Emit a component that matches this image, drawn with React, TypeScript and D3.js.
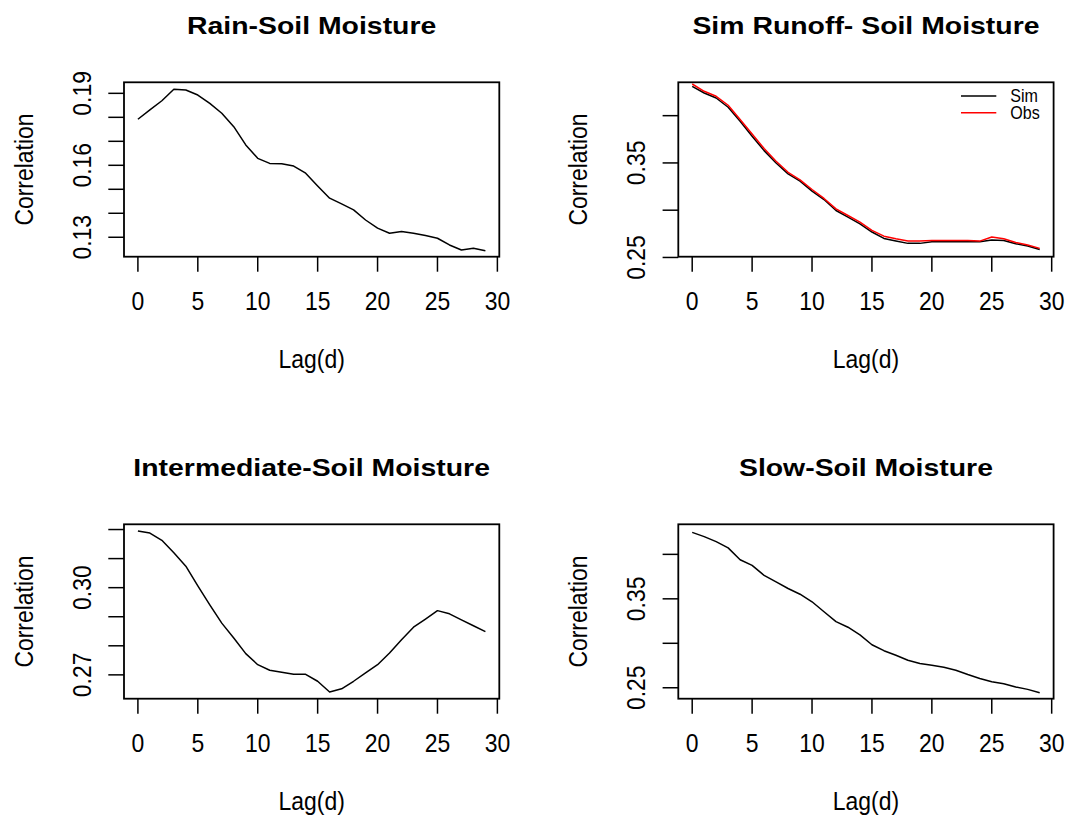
import React from "react";
import * as d3 from "d3";

// ---------- data ----------
const lags = [0, 1, 2, 3, 4, 5, 6, 7, 8, 9, 10, 11, 12, 13, 14, 15, 16, 17, 18, 19, 20, 21, 22, 23, 24, 25, 26, 27, 28, 29];

const rainSoil = [0.1792, 0.1831, 0.1869, 0.1917, 0.1914, 0.1893, 0.1858, 0.1817, 0.1761, 0.1685, 0.1629, 0.1608, 0.1606, 0.1597, 0.1567, 0.1514, 0.1463, 0.1439, 0.1414, 0.1372, 0.1338, 0.1317, 0.1324, 0.1317, 0.1307, 0.1296, 0.1268, 0.1247, 0.1254, 0.1244];

const simRunoffSoil = [0.4310, 0.4240, 0.4187, 0.4089, 0.3941, 0.3782, 0.3630, 0.3500, 0.3384, 0.3307, 0.3202, 0.3113, 0.2997, 0.2927, 0.2856, 0.2769, 0.2701, 0.2674, 0.2649, 0.2649, 0.2666, 0.2666, 0.2666, 0.2666, 0.2666, 0.2684, 0.2680, 0.2645, 0.2621, 0.2585];
const obsRunoffSoil = [0.4335, 0.4258, 0.4205, 0.4110, 0.3959, 0.3807, 0.3652, 0.3518, 0.3401, 0.3321, 0.3219, 0.3124, 0.3014, 0.2944, 0.2873, 0.2786, 0.2725, 0.2697, 0.2673, 0.2673, 0.2680, 0.2680, 0.2680, 0.2680, 0.2673, 0.2716, 0.2697, 0.2659, 0.2631, 0.2596];

const intermediateSoil = [0.3195, 0.3188, 0.3163, 0.3120, 0.3074, 0.3006, 0.2941, 0.2878, 0.2827, 0.2773, 0.2735, 0.2716, 0.2709, 0.2702, 0.2702, 0.2678, 0.2641, 0.2652, 0.2678, 0.2707, 0.2735, 0.2775, 0.2821, 0.2864, 0.2892, 0.2921, 0.2910, 0.2889, 0.2869, 0.2849];

const slowSoil = [0.4247, 0.4199, 0.4143, 0.4073, 0.3939, 0.3876, 0.3764, 0.3690, 0.3616, 0.3552, 0.3467, 0.3355, 0.3244, 0.3181, 0.3095, 0.2984, 0.2917, 0.2865, 0.2809, 0.2772, 0.2753, 0.2731, 0.2697, 0.2649, 0.2605, 0.2568, 0.2546, 0.2508, 0.2482, 0.2445];

const xTicks = [0, 5, 10, 15, 20, 25, 30];
const rainTicks = [0.13, 0.14, 0.15, 0.16, 0.17, 0.18, 0.19];
const rainLabels = ["0.13", "0.16", "0.19"];
const runoffTicks = [0.25, 0.3, 0.35, 0.4];
const runoffLabels = ["0.25", "0.35"];
const interTicks = [0.27, 0.28, 0.29, 0.3, 0.31, 0.32];
const interLabels = ["0.27", "0.30"];
const slowTicks = [0.25, 0.3, 0.35, 0.4];
const slowLabels = ["0.25", "0.35"];

const titles = ["Rain-Soil Moisture", "Sim Runoff- Soil Moisture", "Intermediate-Soil Moisture", "Slow-Soil Moisture"];
const legendNames = ["Sim", "Obs"];

// ---------- layout ----------
const W = 1068;
const H = 819;
const FONT = "'Liberation Sans', Arial, sans-serif";
const boxLefts = [124, 678.3];
const boxTops = [82.3, 524.3];
const boxW = 375.3;
const boxH = 174.4;
const xDomain: [number, number] = [-1.16, 30.16];

type Series = { values: number[]; color: string };
type Panel = {
  title: string;
  series: Series[];
  yDomain: [number, number];
  yTicks: number[];
  yLabels: string[];
  legend: boolean;
};

const panels: Panel[] = [
  { title: titles[0], series: [{ values: rainSoil, color: "#000" }], yDomain: [0.1219, 0.1946], yTicks: rainTicks, yLabels: rainLabels, legend: false },
  {
    title: titles[1],
    series: [
      { values: simRunoffSoil, color: "#000" },
      { values: obsRunoffSoil, color: "#ff0000" },
    ],
    yDomain: [0.2508, 0.4353],
    yTicks: runoffTicks,
    yLabels: runoffLabels,
    legend: true,
  },
  { title: titles[2], series: [{ values: intermediateSoil, color: "#000" }], yDomain: [0.2618, 0.3218], yTicks: interTicks, yLabels: interLabels, legend: false },
  { title: titles[3], series: [{ values: slowSoil, color: "#000" }], yDomain: [0.2377, 0.4338], yTicks: slowTicks, yLabels: slowLabels, legend: false },
];

function Txt(props: { x: number; y: number; text: string; size: number; sx?: number; rot?: number; bold?: boolean; anchor?: string }) {
  const { x, y, text, size, sx = 1, rot = 0, bold = false, anchor = "middle" } = props;
  return (
    <text
      transform={`translate(${x},${y}) rotate(${rot}) scale(${sx},1)`}
      fontFamily={FONT}
      fontSize={size}
      fontWeight={bold ? "bold" : "normal"}
      textAnchor={anchor}
      fill="#000"
    >
      {text}
    </text>
  );
}

function PanelView({ p, left, top }: { p: Panel; left: number; top: number }) {
  const x = d3.scaleLinear().domain(xDomain).range([left, left + boxW]);
  const y = d3.scaleLinear().domain(p.yDomain).range([top + boxH, top]);
  const bottom = top + boxH;
  const right = left + boxW;
  const cx = left + boxW / 2;
  const cy = top + boxH / 2;
  return (
    <g>
      <Txt x={cx} y={top - 48} text={p.title} size={24.7} sx={1.15} bold />
      {p.series.map((s, i) => {
        const line = d3
          .line<number>()
          .x((_, j) => x(lags[j]))
          .y((v) => y(v));
        return <path key={i} d={line(s.values) || ""} fill="none" stroke={s.color} strokeWidth={1.5} strokeLinejoin="round" />;
      })}
      <rect x={left} y={top} width={boxW} height={boxH} fill="none" stroke="#000" strokeWidth={1.8} />
      {xTicks.map((t) => (
        <g key={"x" + t}>
          <line x1={x(t)} x2={x(t)} y1={bottom} y2={bottom + 15} stroke="#000" strokeWidth={1.5} />
          <Txt x={x(t)} y={bottom + 53.3} text={String(t)} size={25.5} sx={0.9} />
        </g>
      ))}
      {p.yTicks.map((t) => {
        const lbl = t.toFixed(2);
        return (
          <g key={"y" + t}>
            <line x1={left - 15.7} x2={left} y1={y(t)} y2={y(t)} stroke="#000" strokeWidth={1.5} />
            {p.yLabels.includes(lbl) && <Txt x={left - 33.3} y={y(t)} text={lbl} size={25.5} sx={0.9} rot={-90} />}
          </g>
        );
      })}
      <Txt x={cx} y={bottom + 111.6} text="Lag(d)" size={25.5} sx={0.9} />
      <Txt x={left - 91} y={cy} text="Correlation" size={25.5} sx={0.9} rot={-90} />
      {p.legend &&
        p.series.map((s, i) => (
          <g key={"lg" + i}>
            <line x1={right - 92.6} x2={right - 57.3} y1={top + 13.7 + i * 16.7} y2={top + 13.7 + i * 16.7} stroke={s.color} strokeWidth={1.5} />
            <Txt x={right - 43.3} y={top + 13.7 + i * 16.7 + 6} text={legendNames[i]} size={17.5} sx={0.92} anchor="start" />
          </g>
        ))}
    </g>
  );
}

export default function App() {
  return (
    <svg width={W} height={H} style={{ position: "absolute", left: 0, top: 0, background: "#fff" }}>
      <rect x={0} y={0} width={W} height={H} fill="#fff" />
      {panels.map((p, i) => (
        <PanelView key={i} p={p} left={boxLefts[i % 2]} top={boxTops[Math.floor(i / 2)]} />
      ))}
    </svg>
  );
}
